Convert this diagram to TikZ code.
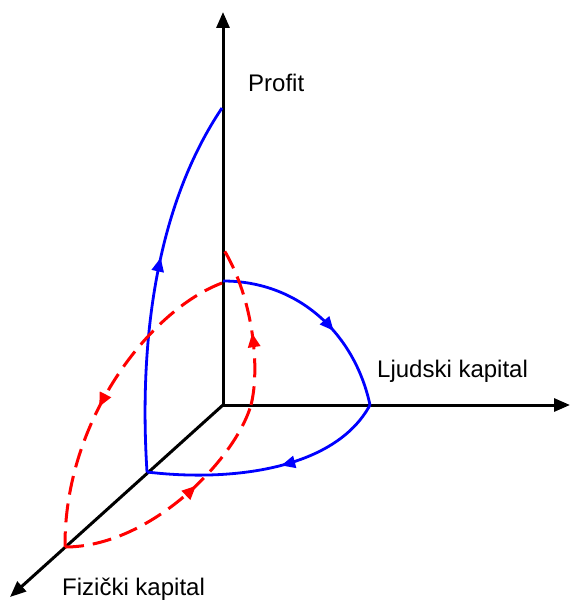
\documentclass[tikz,border=0pt]{standalone}
\usepackage{fontspec}
\setmainfont{Liberation Sans}
\usetikzlibrary{arrows.meta,decorations.markings}

\begin{document}
\begin{tikzpicture}[x=1pt, y=-1pt, >={Triangle[length=16pt,width=13pt]},
  ax/.style={draw, line width=3pt, ->},
  bl/.style={draw=blue, line width=2.8pt},
  rd/.style={draw=red, line width=3pt, dash pattern=on 19pt off 9pt},
  mid/.style={postaction={decorate}, decoration={markings,
    mark=at position #1 with {\arrow{Triangle[length=14pt,width=12pt]}}}},
  lbl/.style={inner sep=0pt, anchor=base west, font=\fontsize{24}{28}\selectfont}]
\useasboundingbox (0,0) rectangle (571,602);
% axes
\coordinate (O) at (223,405);
\coordinate (ytip) at (223,12);
\coordinate (xtip) at (570,405);
\coordinate (ztip) at (10,597);
\draw[ax] (O) -- (ytip);
\draw[ax] (O) -- (xtip);
\draw[ax] (O) -- (ztip);
\node[lbl] (prof) at (248,92) {Profit};
\node[lbl] (ljud) at (377,377) {Ljudski kapital};
\node[lbl] (fiz) at (62,595) {Fizički kapital};
% blue path
\coordinate (A) at (223,281);
\coordinate (H) at (370,405);
\coordinate (Q) at (147,472);
\coordinate (P) at (222,108);
\draw[bl, mid=0.6] (A) .. controls (300,281) and (355,335) .. (H);
\draw[bl, mid=0.45] (H) .. controls (335,470) and (230,482) .. (Q);
\draw[bl, mid=0.57] (Q) .. controls (138,330) and (160,200) .. (P);
% red path
\coordinate (R) at (222,283);
\coordinate (Z) at (65,547);
\coordinate (X) at (251,405);
\coordinate (T) at (224,250);
\draw[rd, mid=0.55] (R) .. controls (150,310) and (64,420) .. (Z);
\draw[rd, mid=0.6] (Z) .. controls (150,547) and (235,460) .. (X);
\draw[rd, mid=0.45] (X) .. controls (260,370) and (254,300) .. (T);
\end{tikzpicture}
\end{document}
